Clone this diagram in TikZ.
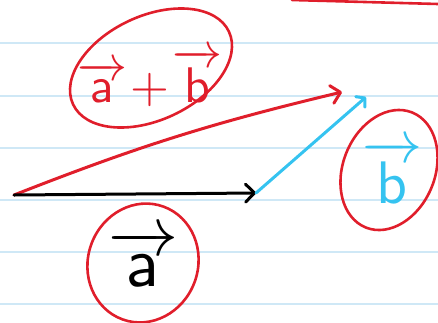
\documentclass[tikz,border=0pt]{standalone}
\usepackage{xcolor}
\usepackage{amsmath}
\usepackage{tikz}
\usetikzlibrary{arrows.meta}
\definecolor{inkred}{HTML}{E01E2B}
\definecolor{inkblue}{HTML}{35C3F0}
\definecolor{paper}{HTML}{CFE8F6}
\begin{document}
\begin{tikzpicture}[x=1pt, y=-1pt, line cap=round, line join=round,
  every node/.style={font=\sffamily, inner sep=0pt},
  ring/.style={draw=inkred, line width=2.6pt},
  vec/.style={line width=3pt, -{Straight Barb[length=9pt, width=18pt, round]}}]
\useasboundingbox (0,0) rectangle (438,322);
% ruled paper
\foreach \y in {43,96,148,200,252,304}
  \draw[paper, line width=1.2pt] (0,\y) -- (438,\y);
\draw[inkred, line width=2.6pt] (292,0) -- (438,4);

\coordinate (start) at (14,195);
\coordinate (tipa) at (256,193);
\coordinate (tipb) at (366,97);
\coordinate (tipsum) at (342,92);

\node[text=inkred, scale=5] (sumlbl) at (150,78) {$\overrightarrow{\mathsf{a}}\!+\!\overrightarrow{\mathsf{b}}$};
\node[text=black, scale=7] (albl) at (143,258) {$\overrightarrow{\mathsf{a}}$};
\node[text=inkblue, scale=6] (blbl) at (392,172) {$\overrightarrow{\mathsf{b}}$};

\draw[ring, rotate around={25:(151,68)}] (151,68) ellipse [x radius=86, y radius=52];
\draw[ring, rotate around={70:(143,263)}] (143,263) ellipse [x radius=60, y radius=55];
\draw[ring, rotate around={68:(389,170)}] (389,170) ellipse [x radius=62, y radius=46];

\draw[vec, inkred] (start) to[bend left=4] (tipsum);
\draw[vec, black] (start) -- (tipa);
\draw[vec, inkblue, -{Straight Barb[length=6pt, width=14pt, round]}] (tipa) -- (tipb);
\end{tikzpicture}
\end{document}
